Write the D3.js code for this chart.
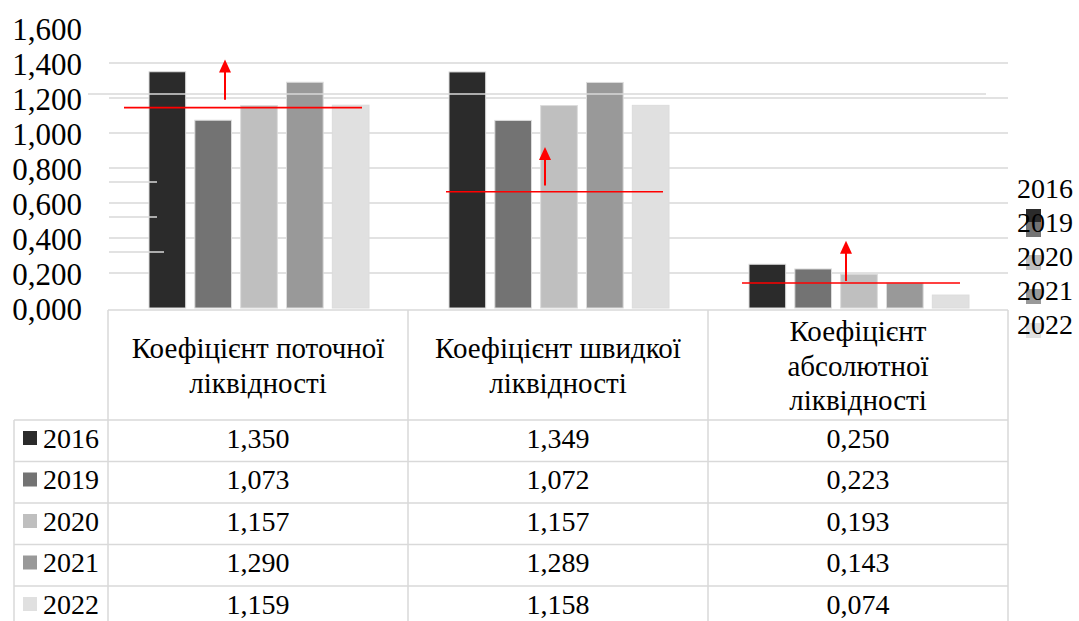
<!DOCTYPE html>
<meta charset="utf-8">
<script src="https://d3js.org/d3.v7.min.js"></script>
<style>
  body { margin: 0; background: #fff; }
</style>
<body>
<div id="chart"></div>
</body>
<script>
    // categories and their header lines in the data table
    const categories = ["current", "quick", "absolute"];
    const headerLines = [
        ["Коефіцієнт поточної", "ліквідності"],
        ["Коефіцієнт швидкої", "ліквідності"],
        ["Коефіцієнт", "абсолютної", "ліквідності"]
    ];
    const years = ["2016", "2019", "2020", "2021", "2022"];
    const values2016 = [1.350, 1.349, 0.250];
    const values2019 = [1.073, 1.072, 0.223];
    const values2020 = [1.157, 1.157, 0.193];
    const values2021 = [1.290, 1.289, 0.143];
    const values2022 = [1.159, 1.158, 0.074];
    const yTicks = [0, 0.2, 0.4, 0.6, 0.8, 1.0, 1.2, 1.4, 1.6];
    const colors = ["#2b2b2b", "#737373", "#bfbfbf", "#999999", "#e0e0e0"];

    // red "norm" marks drawn on top of each group
    const normLevel = [1.145, 0.664, 0.143];
    const arrowFrom = [1.19, 0.70, 0.155];
    const arrowTo = [1.42, 0.92, 0.385];

    const series = [values2016, values2019, values2020, values2021, values2022];

    const W = 1079, H = 621;
    const FONT = '"Liberation Serif", serif';
    const svg = d3.select("#chart").append("svg")
        .attr("width", W).attr("height", H);
    svg.append("rect").attr("width", W).attr("height", H).attr("fill", "#fff");

    const plotLeft = 108, plotRight = 1008, base = 308;
    const y = d3.scaleLinear().domain([0, 1.6]).range([base, base - 1.6 * 175]);
    const x0 = d3.scaleBand().domain(categories).range([plotLeft, plotRight]);
    const x1 = d3.scaleBand().domain(years).range([41, 261]).paddingInner(0.2);
    const fmt = d => d3.format(".3f")(d).replace(".", ",");

    // gridlines
    svg.append("g").selectAll("line")
        .data(yTicks.filter(d => d > 0 && d < 1.5))
        .join("line")
        .attr("x1", plotLeft + 1).attr("x2", plotRight)
        .attr("y1", d => y(d)).attr("y2", d => y(d))
        .attr("stroke", "#d9d9d9").attr("stroke-width", 1.5);

    // y axis labels
    svg.append("g").selectAll("text")
        .data(yTicks)
        .join("text")
        .attr("x", 82).attr("y", d => y(d) + 1)
        .attr("dy", "0.34em")
        .attr("text-anchor", "end")
        .style("font-family", FONT)
        .style("font-size", "31px")
        .text(fmt);

    // bars
    const groups = svg.append("g").selectAll("g")
        .data(categories)
        .join("g")
        .attr("transform", d => `translate(${x0(d)},0)`);

    groups.selectAll("rect")
        .data((c, ci) => years.map((yr, i) => ({ year: yr, i: i, v: series[i][ci] })))
        .join("rect")
        .attr("x", d => x1(d.year))
        .attr("width", x1.bandwidth())
        .attr("y", d => y(d.v))
        .attr("height", d => base - y(d.v))
        .attr("fill", d => colors[d.i])
        .attr("stroke", "#dcdcdc").attr("stroke-width", 1);

    // stray light lines that sit over the bars in the original
    const stray = svg.append("g").attr("stroke", "#d9d9d9").attr("stroke-width", 1.5);
    stray.append("line").attr("x1", 88).attr("x2", 986)
        .attr("y1", y(1.223)).attr("y2", y(1.223));
    [[0.72, 157], [0.52, 157], [0.32, 164]].forEach(([v, xe]) => {
        stray.append("line").attr("x1", plotLeft + 1).attr("x2", xe)
            .attr("y1", y(v)).attr("y2", y(v));
    });

    // red norm lines and arrows
    const lineSpan = [[16, 254], [38, 255], [34, 252]];
    const arrowX = [117, 137, 138];
    const red = svg.append("g");
    categories.forEach((c, i) => {
        const bx = x0(c);
        red.append("line")
            .attr("x1", bx + lineSpan[i][0]).attr("x2", bx + lineSpan[i][1])
            .attr("y1", y(normLevel[i])).attr("y2", y(normLevel[i]))
            .attr("stroke", "#ff0000").attr("stroke-width", 1.6);
        const ax = bx + arrowX[i], top = y(arrowTo[i]);
        red.append("line")
            .attr("x1", ax).attr("x2", ax)
            .attr("y1", y(arrowFrom[i])).attr("y2", top + 8)
            .attr("stroke", "#ff0000").attr("stroke-width", 2);
        red.append("path")
            .attr("d", `M${ax - 6},${top + 13} L${ax + 6},${top + 13} L${ax},${top} Z`)
            .attr("fill", "#ff0000");
    });

    // data table
    const tableTop = 310, headerBottom = 420, rowH = 41.5, tableLeft = 14;
    const grid = svg.append("g").attr("stroke", "#d9d9d9").attr("stroke-width", 1.5);
    grid.append("line").attr("x1", plotLeft).attr("x2", plotRight)
        .attr("y1", tableTop).attr("y2", tableTop);
    categories.forEach(c => {
        grid.append("line").attr("x1", x0(c)).attr("x2", x0(c))
            .attr("y1", tableTop).attr("y2", H);
    });
    grid.append("line").attr("x1", plotRight).attr("x2", plotRight)
        .attr("y1", tableTop).attr("y2", H);
    grid.append("line").attr("x1", tableLeft).attr("x2", tableLeft)
        .attr("y1", headerBottom).attr("y2", H);
    years.forEach((yr, i) => {
        const yy = headerBottom + i * rowH;
        grid.append("line").attr("x1", tableLeft).attr("x2", plotRight)
            .attr("y1", yy).attr("y2", yy);
    });

    // header text
    categories.forEach((c, i) => {
        const lines = headerLines[i];
        const cx = x0(c) + x0.bandwidth() / 2;
        const mid = 367;
        lines.forEach((t, j) => {
            svg.append("text")
                .attr("x", cx)
                .attr("y", mid + (j - (lines.length - 1) / 2) * 34.5)
                .attr("dy", "0.3em")
                .attr("text-anchor", "middle")
                .style("font-family", FONT)
                .style("font-size", "29px")
                .text(t);
        });
    });

    // rows
    years.forEach((yr, i) => {
        const cy = headerBottom + i * rowH + 18;
        svg.append("rect")
            .attr("x", 23).attr("y", cy - 7)
            .attr("width", 14).attr("height", 14)
            .attr("fill", colors[i]);
        svg.append("text")
            .attr("x", 43).attr("y", cy).attr("dy", "0.34em")
            .style("font-family", FONT)
            .style("font-size", "28px")
            .text(yr);
        categories.forEach((c, ci) => {
            svg.append("text")
                .attr("x", x0(c) + x0.bandwidth() / 2)
                .attr("y", cy).attr("dy", "0.34em")
                .attr("text-anchor", "middle")
                .style("font-family", FONT)
                .style("font-size", "28px")
                .text(fmt(series[i][ci]));
        });
    });

    // right-hand legend (markers sit slightly off their labels, as in the original)
    const legend = svg.append("g");
    years.forEach((yr, i) => {
        const cy = 188 + i * 34;
        const my = i === 0 ? cy + 21 : cy + (i === 1 ? 0 : -1);
        legend.append("rect")
            .attr("x", 1026).attr("y", my)
            .attr("width", 15).attr("height", 15)
            .attr("fill", colors[i]);
    });
    years.forEach((yr, i) => {
        legend.append("text")
            .attr("x", 1017).attr("y", 188 + i * 34).attr("dy", "0.34em")
            .style("font-family", FONT)
            .style("font-size", "28px")
            .text(yr);
    });
</script>
